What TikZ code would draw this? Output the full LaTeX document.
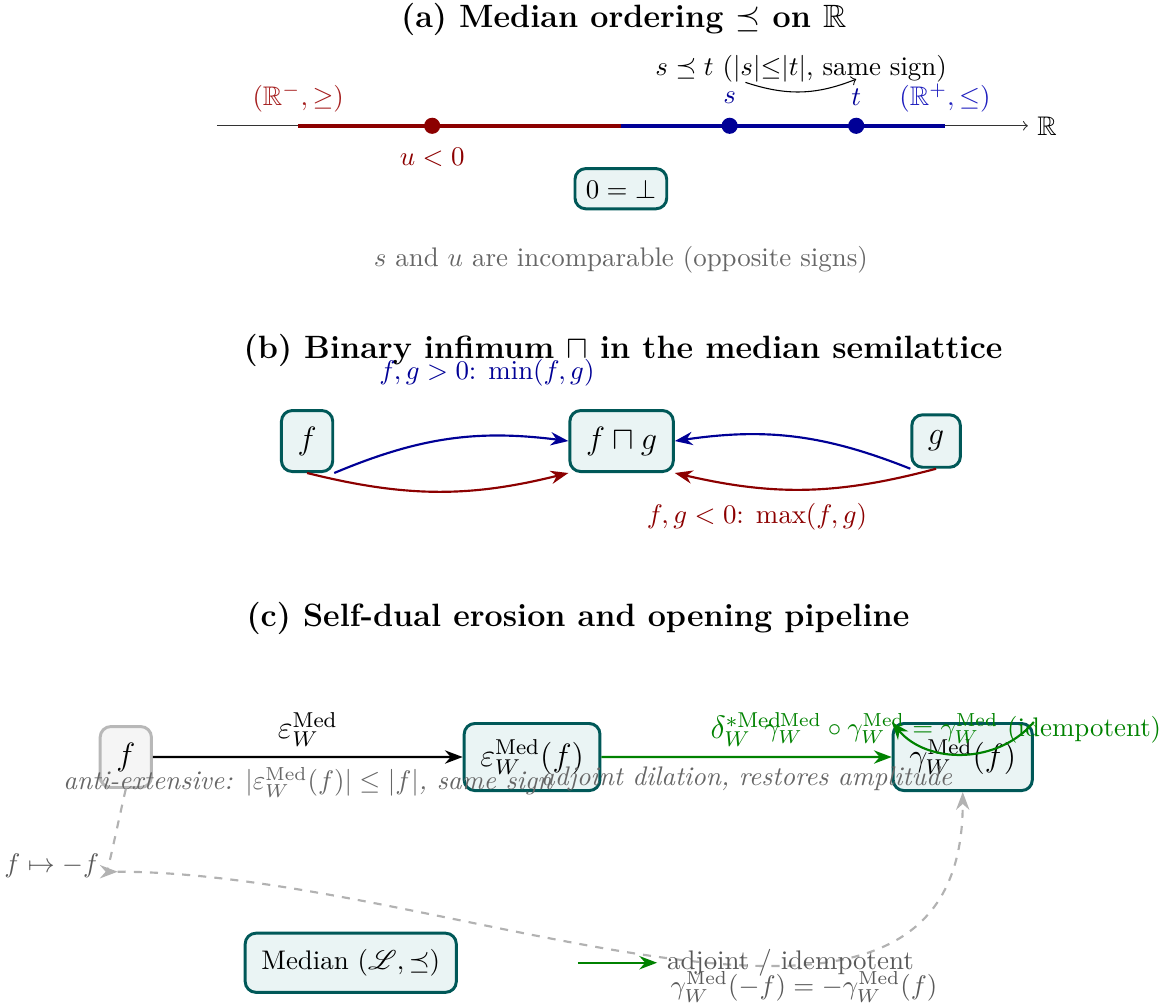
\documentclass[tikz,border=0pt]{standalone}
\usepackage{amsmath,amssymb,mathrsfs}
\usepackage{xcolor}
\usepackage{tikz}
\usetikzlibrary{positioning,arrows.meta}

\definecolor{tealline}{RGB}{0,88,88}
\definecolor{tealfill}{RGB}{234,244,244}
\definecolor{negred}{RGB}{140,0,0}
\definecolor{neglab}{RGB}{165,30,30}
\definecolor{posblue}{RGB}{0,0,150}
\definecolor{poslab}{RGB}{30,30,190}
\definecolor{adjgreen}{RGB}{0,130,0}

\begin{document}
\begin{tikzpicture}[
  scale=0.967,
  >={Stealth},
  title/.style={font=\large\bfseries},
  box/.style={draw=tealline, fill=tealfill, line width=1.1pt, rounded corners=4pt, inner sep=6pt, font=\large},
  inbox/.style={box, draw=black!28, fill=black!4},
  dot/.style={circle, inner sep=0pt, minimum size=6pt},
  note/.style={font=\itshape, text=black!60},
  dual/.style={dashed, black!30, thick},
  dualtxt/.style={text=black!65}]
  \useasboundingbox (-8.39,-11.91) rectangle (7.38,1.70);

  % (a) median ordering
  \node[title] (ta) at (0.04,1.44) {(a) Median ordering $\preceq$ on $\mathbb{R}$};
  \coordinate (lo) at (-5.46,0);
  \coordinate (neg) at (-4.36,0);
  \coordinate (zero) at (0,0);
  \coordinate (pos) at (4.38,0);
  \draw[-to, black!80] (lo) -- (5.50,0) node[right, black] (rr) {$\mathbb{R}$};
  \draw[negred, line width=1.6pt] (neg) -- (zero);
  \draw[posblue, line width=1.6pt] (zero) -- (pos);
  \node[dot, fill=negred] (u) at (-2.55,0) {};
  \node[dot, fill=posblue] (s) at (1.47,0) {};
  \node[dot, fill=posblue] (t) at (3.18,0) {};
  \node[neglab] (neglbl) at (-4.36,0.38) {$(\mathbb{R}^-,\geq)$};
  \node[poslab] (poslbl) at (4.38,0.38) {$(\mathbb{R}^+,\leq)$};
  \node[posblue] (slab) at (1.47,0.38) {$s$};
  \node[posblue] (tlab) at (3.18,0.39) {$t$};
  \node[negred] (ulab) at (-2.55,-0.42) {$u<0$};
  \draw[-to] (slab.north east) to[bend right=20] node[above, black] {$s\preceq t$ ($|s|{\leq}|t|$, same sign)} (tlab.north);
  \node[box, font=\normalsize, inner sep=4pt] (bot) at (0,-0.85) {$0=\bot$};
  \node[text=black!60] (incomp) at (0,-1.81) {$s$ and $u$ are incomparable (opposite signs)};

  % (b) binary infimum
  \node[title] (tb) at (0.03,-3.03) {(b) Binary infimum $\sqcap$ in the median semilattice};
  \node[box] (fb) at (-4.24,-4.26) {$f$};
  \node[box] (fg) at (0.01,-4.26) {$f\sqcap g$};
  \node[box] (gb) at (4.26,-4.26) {$g$};
  \draw[->, posblue, thick] (fb.south east) to[bend left=15] (fg.west);
  \draw[->, negred, thick] (fb.south) to[bend right=14] (fg.south west);
  \draw[->, posblue, thick] (gb.south west) to[bend right=15] (fg.east);
  \draw[->, negred, thick] (gb.south) to[bend left=14] (fg.south east);
  \node[posblue] (minlab) at (-1.81,-3.34) {$f,g>0$: $\min(f,g)$};
  \node[negred] (maxlab) at (1.84,-5.28) {$f,g<0$: $\max(f,g)$};

  % (c) erosion / opening pipeline
  \node[title] (tc) at (-0.58,-6.66) {(c) Self-dual erosion and opening pipeline};
  \node[inbox] (fc) at (-6.69,-8.53) {$f$};
  \node[box] (ero) at (-1.20,-8.53) {$\varepsilon_W^{\mathrm{Med}}(f)$};
  \node[box] (opn) at (4.62,-8.53) {$\gamma_W^{\mathrm{Med}}(f)$};
  \draw[->, thick] (fc) -- node[above, font=\large] {$\varepsilon_W^{\mathrm{Med}}$}
    node[note, below] {anti-extensive: $|\varepsilon_W^{\mathrm{Med}}(f)|\leq|f|$, same sign} (ero);
  \draw[->, thick, adjgreen] (ero) -- node[above, font=\large] {$\delta_W^{*\mathrm{Med}}$}
    node[note, below] {adjoint dilation, restores amplitude} (opn);
  \draw[->, thick, adjgreen] (opn.north east) to[bend left=50]
    node[above] {$\gamma_W^{\mathrm{Med}}\circ\gamma_W^{\mathrm{Med}}=\gamma_W^{\mathrm{Med}}$ (idempotent)} (opn.north west);
  \coordinate (negf) at (-6.80,-10.08);
  \draw[dual, ->] (fc.south) to[out=-103, in=180, out looseness=1.2, in looseness=0.3] (negf);
  \node[dualtxt] (fneg) at (-7.69,-10.0) {$f\mapsto -f$};
  \draw[dual, ->] (negf) to[out=0, in=-90]
    node[pos=0.65, below, dualtxt] {$\gamma_W^{\mathrm{Med}}(-f)=-\gamma_W^{\mathrm{Med}}(f)$} (opn.south);

  % legend
  \node[box, font=\normalsize] (leg) at (-3.65,-11.31) {Median $(\mathscr{L},\preceq)$};
  \coordinate (lgs) at (-0.58,-11.31);
  \coordinate (lge) at (0.49,-11.31);
  \draw[->, thick, adjgreen] (lgs) -- (lge) node[right, dualtxt] (legtxt) {adjoint / idempotent};
\end{tikzpicture}
\end{document}
